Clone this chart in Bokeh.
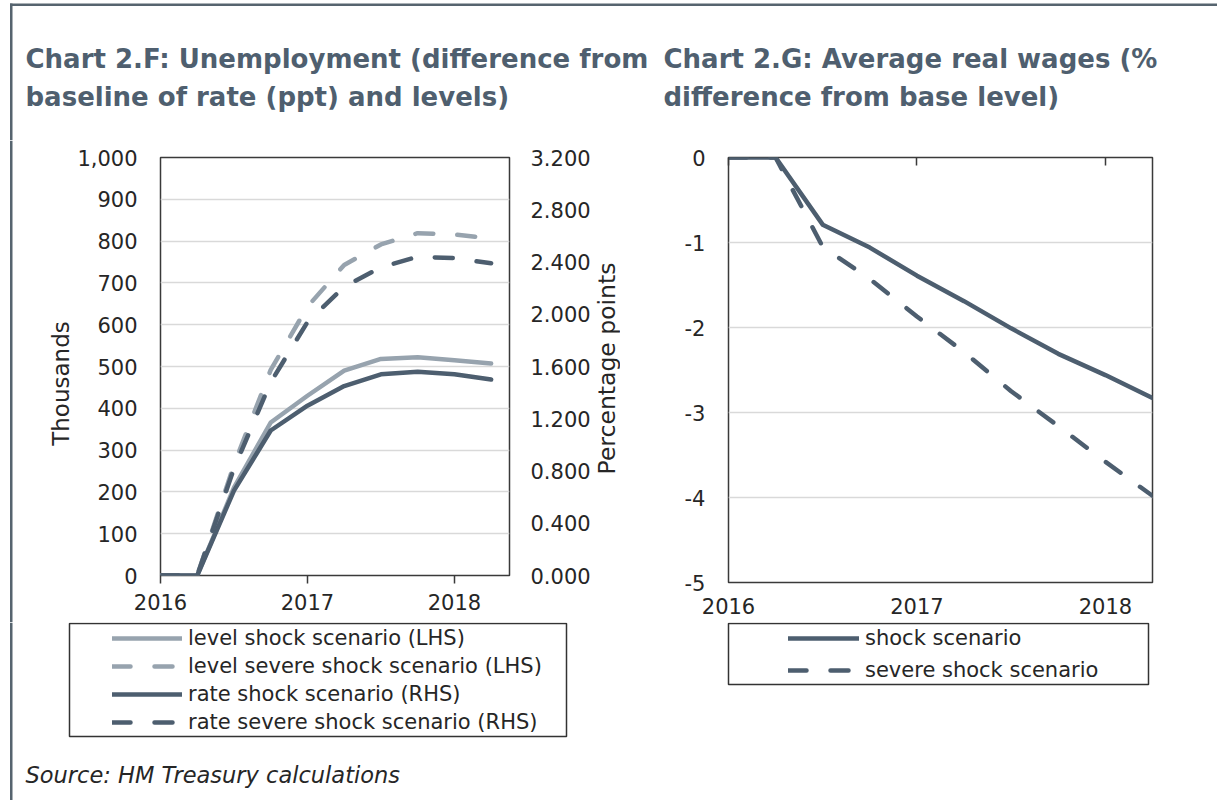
import math
from bokeh.plotting import figure
from bokeh.models import (Range1d, LinearAxis, Label, Legend, LegendItem,
                          BoxAnnotation, FixedTicker, NumeralTickFormatter)
from bokeh.layouts import row, column
from bokeh.embed import file_html
from bokeh.resources import INLINE

# ---------------- data ----------------
quarters = ["2016Q1", "2016Q2", "2016Q3", "2016Q4", "2017Q1",
            "2017Q2", "2017Q3", "2017Q4", "2018Q1", "2018Q2"]
year_ticks = [2016, 2017, 2018]

# Chart 2.F - unemployment
level_shock = [0, 0, 210, 366, 430, 490, 518, 522, 515, 507]          # thousands (LHS)
level_severe = [0, 0, 265, 492, 643, 743, 792, 819, 816, 806]         # thousands (LHS)
rate_shock = [0, 0, 0.65, 1.11, 1.30, 1.45, 1.54, 1.56, 1.54, 1.50]   # ppt (RHS)
rate_severe = [0, 0, 0.82, 1.48, 1.94, 2.21, 2.36, 2.44, 2.43, 2.39]  # ppt (RHS)
lhs_ticks = [0, 100, 200, 300, 400, 500, 600, 700, 800, 900, 1000]
rhs_ticks = [0.0, 0.4, 0.8, 1.2, 1.6, 2.0, 2.4, 2.8, 3.2]

# Chart 2.G - real wages
wages_shock = [0, 0, -0.79, -1.06, -1.39, -1.69, -2.01, -2.31, -2.56, -2.83]
wages_severe = [0, 0, -1.05, -1.43, -1.87, -2.29, -2.75, -3.16, -3.58, -3.98]
wage_ticks = [-5, -4, -3, -2, -1, 0]

labels_F = ["level shock scenario (LHS)", "level severe shock scenario (LHS)",
            "rate shock scenario (RHS)", "rate severe shock scenario (RHS)"]
labels_G = ["shock scenario", "severe shock scenario"]

xq = [int(q[:4]) + (int(q[-1]) - 1) / 4 for q in quarters]

# ---------------- style ----------------
DARK = "#4d5e6f"
LIGHT = "#97a3ae"
TITLE_C = "#4f5f6f"
GRID = "#d9d9d9"
FRAME = "#3a3a3a"
BORDER = "#56646f"
TXT = "#262626"
FONT = "DejaVu Sans"
W = 1217
TOP_H, MID_H = 140, 482
BOT_H = 800 - TOP_H - MID_H
DASH = "18 24"
common = dict(line_width=4.5, line_cap="round", line_join="round")


def canvas(x0, y0, width, height):
    """A figure whose frame is the whole figure, in page pixel coordinates."""
    p = figure(width=width, height=height, output_backend="svg", toolbar_location=None,
               title=None, x_range=Range1d(x0, x0 + width),
               y_range=Range1d(y0 + height, y0),
               x_axis_type=None, y_axis_type=None, min_border=0)
    p.outline_line_color = None
    p.background_fill_color = "white"
    p.border_fill_color = "white"
    return p


def bar(p, l, r, t, b, color=BORDER):
    p.add_layout(BoxAnnotation(left=l, right=r, top=t, bottom=b, fill_color=color,
                               fill_alpha=1, line_alpha=0))


def frame_box(p, l, r, t, b):
    p.add_layout(BoxAnnotation(left=l, right=r, top=t, bottom=b, fill_alpha=0,
                               line_color="#333333", line_alpha=1, line_width=1.5))


def label(p, x, y, s, size, color=TXT, style="normal", angle=0,
          align="left", baseline="alphabetic"):
    p.add_layout(Label(x=x, y=y, text=s, text_font=FONT, text_font_size=size,
                       text_color=color, text_font_style=style, angle=angle,
                       text_baseline=baseline, text_align=align))


def style_axis(ax, standoff, tick_out=0, tick_in=0):
    ax.major_tick_out = tick_out
    ax.major_tick_in = tick_in
    ax.minor_tick_out = 0
    ax.minor_tick_in = 0
    ax.axis_line_alpha = 0
    ax.major_tick_line_color = FRAME
    ax.major_tick_line_width = 1.5
    ax.major_label_standoff = standoff
    ax.major_label_text_font = FONT
    ax.major_label_text_font_size = "21px"
    ax.major_label_text_color = TXT


# ================= top strip: titles =================
top = canvas(0, 0, W, TOP_H)
label(top, 25, 58, "Chart 2.F: Unemployment (difference from", "26px", TITLE_C, "bold")
label(top, 25, 96, "baseline of rate (ppt) and levels)", "26px", TITLE_C, "bold")
label(top, 663, 58, "Chart 2.G: Average real wages (%", "26px", TITLE_C, "bold")
label(top, 663, 96, "difference from base level)", "26px", TITLE_C, "bold")
bar(top, 9.5, 12, 3, TOP_H)
bar(top, 9.5, W, 3, 5.5)

# ================= middle row geometry =================
X_PL, X_LR, X_PR = 74, 593, 620
FRAME_TOP = 157

# left margin: page border and left axis title
lab_left = canvas(0, TOP_H, X_PL, MID_H)
bar(lab_left, 9.5, 12, TOP_H, TOP_H + MID_H)
label(lab_left, 60.5, 383, "Thousands", "23px", angle=math.pi / 2,
      align="center", baseline="middle")

# ================= Chart 2.F =================
WL = X_LR - X_PL
L_LEFT, L_TOP, L_FW, L_FH = 158 - X_PL, FRAME_TOP - TOP_H, 352, 418
pL = figure(width=WL, height=MID_H, output_backend="svg", toolbar_location=None,
            title=None, x_range=Range1d(2016, 2018.375), y_range=Range1d(0, 1000),
            min_border_left=L_LEFT, min_border_right=WL - L_LEFT - L_FW,
            min_border_top=L_TOP, min_border_bottom=MID_H - L_TOP - L_FH)
pL.extra_y_ranges = {"rate": Range1d(0, 3.2)}
pL.outline_line_color = FRAME
pL.outline_line_width = 1.5
pL.border_fill_color = "white"
pL.xgrid.visible = False
pL.ygrid.grid_line_color = GRID
pL.ygrid.grid_line_width = 1.5
pL.ygrid.ticker = FixedTicker(ticks=lhs_ticks)

pL.yaxis.ticker = FixedTicker(ticks=lhs_ticks)
pL.yaxis.formatter = NumeralTickFormatter(format="0,0")
style_axis(pL.yaxis[0], 23)
pL.xaxis.ticker = FixedTicker(ticks=year_ticks)
style_axis(pL.xaxis[0], 10, tick_out=8)

ax_r = LinearAxis(y_range_name="rate", ticker=FixedTicker(ticks=rhs_ticks),
                  formatter=NumeralTickFormatter(format="0.000"))
style_axis(ax_r, 21)
pL.add_layout(ax_r, "right")

pL.line(xq, level_shock, line_color=LIGHT, **common)
pL.line(xq, level_severe, line_color=LIGHT, line_dash=DASH, **common)
pL.line(xq, rate_shock, line_color=DARK, y_range_name="rate", **common)
pL.line(xq, rate_severe, line_color=DARK, line_dash=DASH, y_range_name="rate", **common)

# right axis title of chart 2.F
lab_right = canvas(X_LR, TOP_H, X_PR - X_LR, MID_H)
label(lab_right, 606, 368, "Percentage points", "23.5px", angle=math.pi / 2,
      align="center", baseline="middle")

# ================= Chart 2.G =================
WR = W - X_PR
R_LEFT, R_TOP, R_FW, R_FH = 728 - X_PR, FRAME_TOP - TOP_H, 424, 425
pR = figure(width=WR, height=MID_H, output_backend="svg", toolbar_location=None,
            title=None, x_range=Range1d(2016, 2018.25), y_range=Range1d(-5, 0),
            min_border_left=R_LEFT, min_border_right=WR - R_LEFT - R_FW,
            min_border_top=R_TOP, min_border_bottom=MID_H - R_TOP - R_FH)
pR.outline_line_color = FRAME
pR.outline_line_width = 1.5
pR.border_fill_color = "white"
pR.xgrid.visible = False
pR.ygrid.grid_line_color = GRID
pR.ygrid.grid_line_width = 1.5
pR.ygrid.ticker = FixedTicker(ticks=wage_ticks)

pR.yaxis.ticker = FixedTicker(ticks=wage_ticks)
pR.yaxis.formatter = NumeralTickFormatter(format="0")
style_axis(pR.yaxis[0], 23)
pR.xaxis.ticker = FixedTicker(ticks=year_ticks)
style_axis(pR.xaxis[0], 15)

# tick marks along the top edge (the x axis crosses at 0), no labels there
ax_top = LinearAxis(ticker=FixedTicker(ticks=year_ticks))
style_axis(ax_top, 0, tick_in=8)
ax_top.major_label_overrides = {t: "" for t in year_ticks}
ax_top.major_label_text_font_size = "1px"
pR.add_layout(ax_top, "above")

pR.line(xq, wages_shock, line_color=DARK, **common)
pR.line(xq, wages_severe, line_color=DARK, line_dash=DASH, **common)

# ================= bottom strip: legends and source =================
Y_BOT = TOP_H + MID_H
bot = canvas(0, Y_BOT, W, BOT_H)
# legend keys: off-canvas copies of the series styles
off_x, off_y = [-40, -30], [700, 700]
k1 = bot.line(off_x, off_y, line_color=LIGHT, **common)
k2 = bot.line(off_x, off_y, line_color=LIGHT, line_dash=DASH, **common)
k3 = bot.line(off_x, off_y, line_color=DARK, **common)
k4 = bot.line(off_x, off_y, line_color=DARK, line_dash=DASH, **common)
g1 = bot.line(off_x, off_y, line_color=DARK, **common)
g2 = bot.line(off_x, off_y, line_color=DARK, line_dash=DASH, **common)

leg_style = dict(padding=0, margin=0, spacing=0, label_standoff=6,
                 border_line_alpha=0, background_fill_alpha=0,
                 label_text_font=FONT, label_text_font_size="21px",
                 label_text_color=TXT)
legF = Legend(items=[LegendItem(label=t, renderers=[r]) for t, r in
                     zip(labels_F, [k1, k2, k3, k4])],
              location=(112, 800 - 736), glyph_width=70, glyph_height=28,
              label_height=28, **leg_style)
legG = Legend(items=[LegendItem(label=t, renderers=[r]) for t, r in
                     zip(labels_G, [g1, g2])],
              location=(788, 800 - 686), glyph_width=71, glyph_height=32,
              label_height=32, **leg_style)
bot.add_layout(legF)
bot.add_layout(legG)
frame_box(bot, 69, 566, 623, 736)
frame_box(bot, 728, 1148, 623, 684)
label(bot, 25, 774, "Source: HM Treasury calculations", "22.5px", style="italic")
bar(bot, 9.5, 12, Y_BOT, 800)

middle = row(column(lab_left), column(pL), column(lab_right), column(pR), spacing=0)
layout = column(top, middle, bot, spacing=0)
open("out.html", "w").write(file_html(layout, INLINE))
